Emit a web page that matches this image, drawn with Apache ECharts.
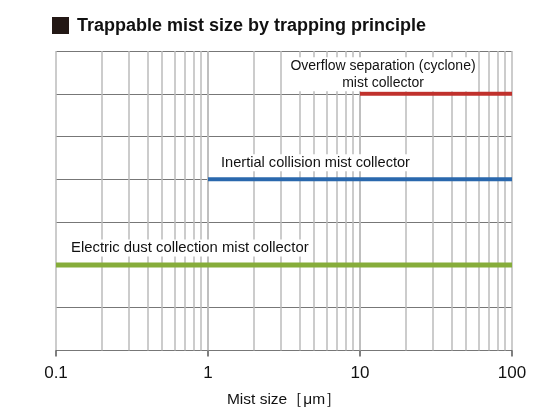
<!DOCTYPE html>
<html><head><meta charset="utf-8">
<script src="https://cdn.jsdelivr.net/npm/echarts@6/dist/echarts.min.js"></script>
<style>html,body{margin:0;padding:0;background:#fff}#c{width:556px;height:410px}</style>
</head><body><div id="c"></div>
<script>
const titleText = 'Trappable mist size by trapping principle';
const axisName = 'Mist size［μm］';
const xTicks = [0.1, 1, 10, 100];
const minorGrid = [0.2,0.3,0.4,0.5,0.6,0.7,0.8,0.9,2,3,4,5,6,7,8,9,20,30,40,50,60,70,80,90];
const seriesNames = ['Overflow separation (cyclone)\nmist collector', 'Inertial collision mist collector', 'Electric dust collection mist collector'];
const seriesRanges = [[10, 100], [1, 100], [0.1, 100]];
const seriesRows = [6, 4, 2];
const seriesColors = ['#c0312c', '#2a68ad', '#86ad3a'];

const font = '"Liberation Sans", Arial, Helvetica, sans-serif';
const chart = echarts.init(document.getElementById('c'), null, {renderer: 'canvas'});

const labelCfg = [
  {position: 'top', align: 'center', offset: [23, 0], distance: 2.5, lineHeight: 17, fontSize: 14},
  {position: 'top', align: 'left', offset: [11, 0], distance: 8, lineHeight: 17, fontSize: 14.6},
  {position: 'top', align: 'left', offset: [13, 0], distance: 8.5, lineHeight: 17, fontSize: 14.85}
];

const series = seriesNames.map((name, i) => ({
  type: 'line',
  name: name,
  data: [
    {value: [seriesRanges[i][0], seriesRows[i]], label: Object.assign({show: true, formatter: name, color: '#111', fontFamily: font, backgroundColor: '#fff', padding: [0, 2]}, labelCfg[i])},
    {value: [seriesRanges[i][1], seriesRows[i]]}
  ],
  symbol: 'circle',
  symbolSize: 0,
  showSymbol: true,
  showAllSymbol: true,
  lineStyle: {color: seriesColors[i], width: i === 2 ? 5 : 4, cap: 'butt'},
  itemStyle: {color: seriesColors[i]},
  z: 5,
  silent: true,
  animation: false
}));

series.push({
  type: 'line',
  data: [],
  silent: true,
  animation: false,
  markLine: {
    silent: true,
    symbol: 'none',
    label: {show: false},
    lineStyle: {color: '#bbbbbb', width: 1.5, type: 'solid'},
    data: minorGrid.concat([1, 10]).map(v => ({xAxis: v}))
  }
});

chart.setOption({
  animation: false,
  backgroundColor: '#fff',
  graphic: [
    {type: 'rect', left: 52, top: 17, shape: {width: 17, height: 17}, style: {fill: '#231815'}},
    {type: 'text', left: 77, top: 17, style: {text: titleText, font: 'bold 18px ' + font, fill: '#111'}}
  ],
  grid: {left: 56, right: 44, top: 51, bottom: 59.5, containLabel: false, outerBoundsMode: 'none'},
  xAxis: {
    type: 'log',
    logBase: 10,
    min: 0.1,
    max: 100,
    name: axisName,
    nameLocation: 'middle',
    nameGap: 41,
    nameTextStyle: {color: '#111', fontSize: 15.5, fontFamily: font},
    axisLine: {show: true, lineStyle: {color: '#777', width: 1}},
    axisTick: {show: true, length: 6, lineStyle: {color: '#555', width: 1.5}},
    axisLabel: {color: '#111', fontSize: 17, fontFamily: font, margin: 14,
      formatter: v => { const t = xTicks.find(k => Math.abs(k - v) < 1e-9 * Math.max(1, v)); return t !== undefined ? String(t) : ''; }},
    splitLine: {show: true, lineStyle: {color: '#bbbbbb', width: 1.5}}
  },
  yAxis: {
    type: 'value',
    min: 0,
    max: 7,
    interval: 1,
    axisLine: {show: false},
    axisTick: {show: false},
    axisLabel: {show: false},
    splitLine: {show: true, lineStyle: {color: '#777', width: 1}}
  },
  series: series
});
</script>
</body></html>
